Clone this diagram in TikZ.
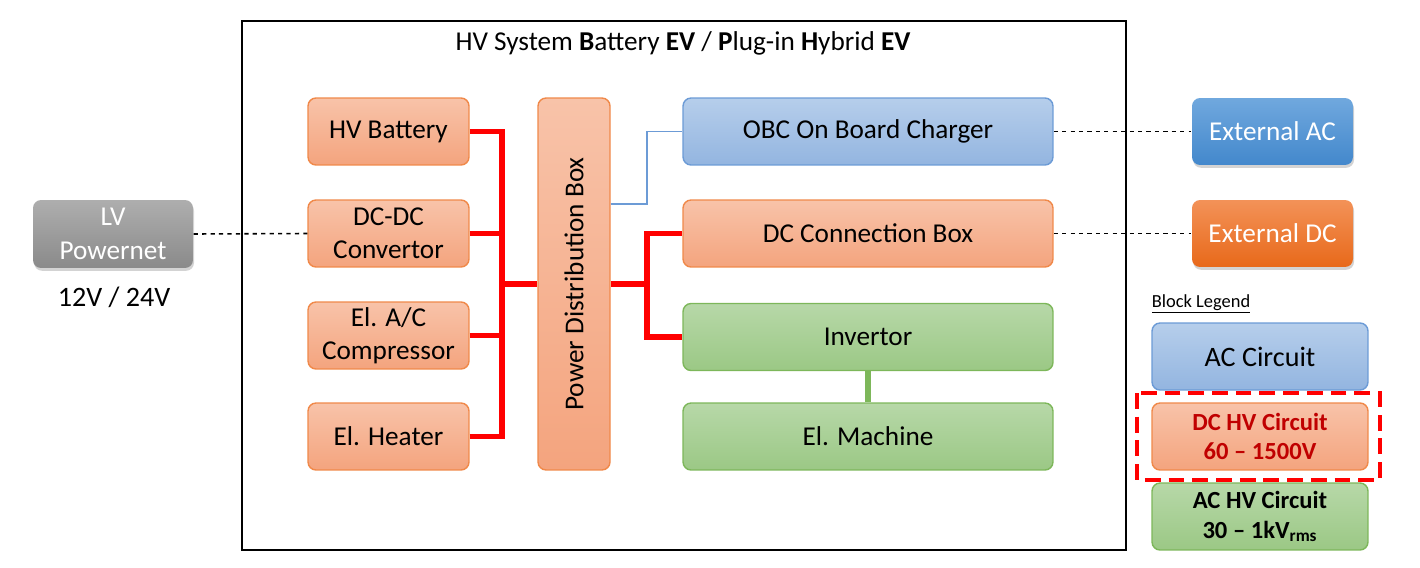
\documentclass[tikz,border=0pt]{standalone}
\usepackage{fontspec}
\setmainfont{Carlito}
\usepackage{tikz}
\usetikzlibrary{shadows}

\definecolor{orTop}{HTML}{F8C3A9}
\definecolor{orBot}{HTML}{F4A47E}
\definecolor{orLine}{HTML}{F0894A}
\definecolor{blTop}{HTML}{B6CEEB}
\definecolor{blBot}{HTML}{93B5E0}
\definecolor{blLine}{HTML}{6C9BD6}
\definecolor{grTop}{HTML}{B7D8A8}
\definecolor{grBot}{HTML}{9BC885}
\definecolor{grLine}{HTML}{7DB75A}
\definecolor{exATop}{HTML}{70A8DE}
\definecolor{exABot}{HTML}{4388CC}
\definecolor{exDTop}{HTML}{F39258}
\definecolor{exDBot}{HTML}{E8691A}
\definecolor{lvTop}{HTML}{AEAEAE}
\definecolor{lvBot}{HTML}{8A8A8A}
\definecolor{hvRed}{HTML}{FF0000}
\definecolor{txRed}{HTML}{C00000}

\tikzset{
  blk/.style={rounded corners=0.16cm, line width=0.8pt, align=center,
    font=\fontsize{15.5}{19}\selectfont, inner sep=2pt},
  dcblk/.style={blk, draw=orLine, top color=orTop, bottom color=orBot},
  acblk/.style={blk, draw=blLine, top color=blTop, bottom color=blBot},
  hvblk/.style={blk, draw=grLine, top color=grTop, bottom color=grBot},
  smallblk/.style={minimum width=3.22cm, minimum height=1.34cm},
  wideblk/.style={minimum width=7.4cm, minimum height=1.34cm},
  legblk/.style={minimum width=4.32cm, minimum height=1.34cm},
  extblk/.style={blk, draw=none, text=white, minimum width=3.22cm, minimum height=1.34cm,
    drop shadow={shadow xshift=0.6pt, shadow yshift=-1.6pt, opacity=0.35}},
  hvbus/.style={draw=hvRed, line width=2.9pt, line join=miter},
  aclink/.style={draw=blLine, line width=0.8pt},
  lvlink/.style={draw=black, line width=0.9pt, dash pattern=on 2.4pt off 2.4pt},
}

\begin{document}
\begin{tikzpicture}[x=0.02cm, y=-0.02cm]
\useasboundingbox (0,0) rectangle (1420,568);
% system frame
\draw[line width=0.9pt] (242,21) rectangle (1126,550);
\node (t) at (683,43) {\fontsize{15.5}{18}\selectfont HV System \textbf{B}attery \textbf{EV} / \textbf{P}lug-in \textbf{H}ybrid \textbf{EV}};
% loads
\node[dcblk, smallblk] (a) at (388.5,131.5) {HV Battery};
\node[dcblk, smallblk] (b) at (388.5,233.5) {DC-DC\\Convertor};
\node[dcblk, smallblk] (c) at (388.5,335.5) {El. A/C\\Compressor};
\node[dcblk, smallblk] (d) at (388.5,436.5) {El. Heater};
% rotated box: north is its left side, south its right side
\node[blk, draw=orLine, top color=orTop, bottom color=orBot, rotate=90,
  minimum width=7.44cm, minimum height=1.44cm] (p) at (574,284) {Power Distribution Box};
\node[acblk, wideblk] (j) at (868,131.5) {OBC On Board Charger};
\node[dcblk, wideblk] (k) at (868,233.5) {DC Connection Box};
\node[hvblk, wideblk] (l) at (868,337) {Invertor};
\node[hvblk, wideblk] (m) at (868,436.5) {El. Machine};
% outside the system
\node[extblk, top color=exATop, bottom color=exABot] (e) at (1272.5,131.5) {External AC};
\node[extblk, top color=exDTop, bottom color=exDBot] (f) at (1272.5,233.5) {External DC};
\node[extblk, top color=lvTop, bottom color=lvBot, minimum width=3.2cm, minimum height=1.36cm] (g) at (113,234) {LV\\Powernet};
\node (h) at (114,297) {\fontsize{16}{19}\selectfont 12V / 24V};
% bus bars
\coordinate (u) at (502,284);
\coordinate (v) at (647,284);
\coordinate (w) at (647,204);
\draw[hvbus] (a.east) -| (u);
\draw[hvbus] (d.east) -| (u);
\draw[hvbus] (b.east) -- (b.east-|u);
\draw[hvbus] (c.east) -- (c.east-|u);
\draw[hvbus] (u) -- (p.north);
\draw[hvbus] (p.south) -- (v);
\draw[hvbus] (v) |- (k.west);
\draw[hvbus] (v) |- (l.west);
\draw[aclink] (p.south|-w) -- (w) |- (j.west);
\draw[draw=grLine, line width=2.9pt] (l.south) -- (m.north);
\draw[lvlink] (j.east) -- (e.west);
\draw[lvlink] (k.east) -- (f.west);
\draw[lvlink] (g.east) -- (b.west);
% legend
\node (n) at (1201,304) {\fontsize{10.5}{12}\selectfont\underline{Block Legend}};
\node[acblk, legblk, font=\fontsize{16}{19}\selectfont] (r) at (1260,356.5) {AC Circuit};
\node[dcblk, legblk, text=txRed, font=\fontsize{14}{17}\selectfont\bfseries] (s) at (1260,436.5) {DC HV Circuit\\60 -- 1500V};
\node[hvblk, legblk, font=\fontsize{14}{17}\selectfont\bfseries] (o) at (1260,516.5) {AC HV Circuit\\30 -- 1kV\textsubscript{rms}};
\draw[hvRed, line width=2.8pt, dash pattern=on 9pt off 4.5pt] (1137,393) rectangle (1380,480);
\end{tikzpicture}
\end{document}
